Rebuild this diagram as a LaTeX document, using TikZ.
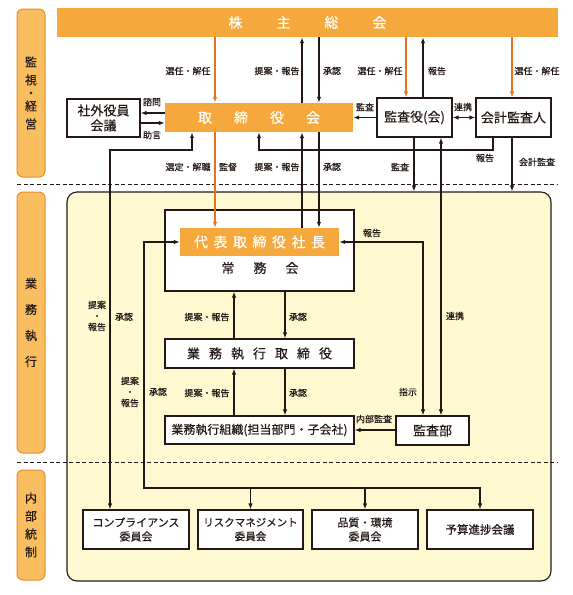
\documentclass[tikz,border=0pt]{standalone}
\usepackage{fontspec}
\setmainfont{Noto Sans CJK JP}[FakeBold=0.3]
\usetikzlibrary{arrows.meta,calc}
\definecolor{ink}{HTML}{231815}
\definecolor{obar}{HTML}{F5A93C}
\definecolor{oarrow}{HTML}{E9731D}
\definecolor{bandf}{HTML}{F9BE5F}
\definecolor{bandb}{HTML}{EE8A2A}
\definecolor{panelf}{HTML}{FFF9D2}
\begin{document}
\begin{tikzpicture}[x=1pt,y=-1pt,
  lbl/.style={font=\fontsize{9}{11}\selectfont, text=ink, inner sep=0pt, align=center},
  box/.style={draw=ink, line width=1.2pt, fill=white, inner sep=0pt, align=center, text=ink, font=\fontsize{12}{14}\selectfont},
  obox/.style={fill=obar, text=white, inner sep=0pt, align=center, font=\fontsize{14}{16}\selectfont},
  band/.style={draw=bandb, fill=bandf, rounded corners=6pt, line width=1pt, minimum width=28pt, inner sep=0pt, align=center, text=ink},
  arr/.style={draw=ink, line width=1.2pt, -{Latex[length=6pt,width=4.5pt]}},
  dbl/.style={draw=ink, line width=1.2pt, {Latex[length=6pt,width=4.5pt]}-{Latex[length=6pt,width=4.5pt]}},
  oarr/.style={draw=oarrow, line width=1.2pt, -{Latex[length=6pt,width=4.5pt]}},
  sep/.style={draw=ink, line width=0.9pt, dash pattern=on 4pt off 2.5pt}
]
\useasboundingbox (0,0) rectangle (573,595);

% bands
\node[band, minimum height=168pt, font=\fontsize{12}{18}\selectfont] (band1) at (31,93)
  {監\\視\\[-5pt]・\\[-5pt]経\\営};
\node[band, minimum height=261pt, font=\fontsize{12}{26}\selectfont] (band2) at (31,322.5)
  {業\\務\\執\\行};
\node[band, minimum height=110pt, font=\fontsize{12}{18}\selectfont] (band3) at (31,525)
  {内\\部\\統\\制};

% panel
\node[draw=ink, line width=1.1pt, fill=panelf, rounded corners=10pt,
      minimum width=484pt, minimum height=389pt, inner sep=0pt] (panel) at (309,386.5) {};

% separators
\coordinate (sepAl) at (17,184); \coordinate (sepAr) at (558,184);
\coordinate (sepBl) at (17,462); \coordinate (sepBr) at (558,462);
\draw[sep] (sepAl) -- (sepAr);
\draw[sep] (sepBl) -- (sepBr);

% top nodes
\node[obox, minimum width=501pt, minimum height=29pt] (kabu) at (307.5,22.5)
  {株\hspace{34pt}主\hspace{34pt}総\hspace{34pt}会};
\node[obox, minimum width=188pt, minimum height=29pt] (tori) at (259,117.5)
  {取\hspace{22pt}締\hspace{22pt}役\hspace{22pt}会};
\node[box, minimum width=73pt, minimum height=38pt, font=\fontsize{13}{15}\selectfont] (shagai) at (103.5,118) {社外役員\\会議};
\node[box, minimum width=75pt, minimum height=39pt, font=\fontsize{13}{15}\selectfont] (kansayaku) at (414.5,117.5) {監査役(会)};
\node[box, minimum width=75pt, minimum height=39pt, font=\fontsize{13}{15}\selectfont] (kaikei) at (513.5,117.5) {会計監査人};

% execution
\node[box, minimum width=189pt, minimum height=81pt] (jomu) at (259.5,250.5) {};
\node[obox, minimum width=159pt, minimum height=28pt] (daihyo) at (259.5,242)
  {代\hspace{5.5pt}表\hspace{5.5pt}取\hspace{5.5pt}締\hspace{5.5pt}役\hspace{5.5pt}社\hspace{5.5pt}長};
\node[lbl, font=\fontsize{13}{15}\selectfont] (jomutext) at (260,268) {常\hspace{19pt}務\hspace{19pt}会};
\node[box, minimum width=189pt, minimum height=29pt, font=\fontsize{13}{15}\selectfont] (gyomu) at (259.5,353.5)
  {業\hspace{9pt}務\hspace{9pt}執\hspace{9pt}行\hspace{9pt}取\hspace{9pt}締\hspace{9pt}役};
\node[box, minimum width=189pt, minimum height=28pt] (soshiki) at (259.5,430) {業務執行組織(担当部門・子会社)};
\node[box, minimum width=73pt, minimum height=29pt, font=\fontsize{13}{15}\selectfont] (kansabu) at (432.5,430.5) {監査部};

% committees
\node[box, minimum width=106pt, minimum height=39pt, font=\fontsize{11}{14}\selectfont] (comp) at (136,529.5) {コンプライアンス\\委員会};
\node[box, minimum width=105pt, minimum height=39pt, font=\fontsize{10.5}{14}\selectfont] (risk) at (250.5,529.5) {リスクマネジメント\\委員会};
\node[box, minimum width=106pt, minimum height=39pt, font=\fontsize{11}{14}\selectfont] (hin) at (365,529.5) {品質・環境\\委員会};
\node[box, minimum width=106pt, minimum height=39pt, font=\fontsize{11.5}{14}\selectfont] (yosan) at (480,529.5) {予算進捗会議};

% x reference coordinates
\coordinate (x215) at (215,0);
\coordinate (x302) at (302,0);
\coordinate (x319) at (319,0);
\coordinate (x406) at (406,0);
\coordinate (x423) at (423,0);
\coordinate (x512) at (512,0);
\coordinate (x414) at (414,0);
\coordinate (x441) at (441,0);
\coordinate (x234) at (234,0);
\coordinate (x285) at (285,0);
\coordinate (y113) at (0,113);
\coordinate (y123) at (0,123);

% top connectors
\draw[oarr] (kabu.south -| x215) -- (tori.north -| x215);
\draw[arr] (tori.north -| x302) -- (kabu.south -| x302);
\draw[arr] (kabu.south -| x319) -- (tori.north -| x319);
\draw[oarr] (kabu.south -| x406) -- (kansayaku.north -| x406);
\draw[arr] (kansayaku.north -| x423) -- (kabu.south -| x423);
\draw[oarr] (kabu.south -| x512) -- (kaikei.north -| x512);
\draw[arr] (tori.west |- y113) -- (shagai.east |- y113);
\draw[arr] (shagai.east |- y123) -- (tori.west |- y123);
\draw[arr] (kansayaku.west) -- (tori.east |- kansayaku.west);
\draw[dbl] (kansayaku.east) -- (kaikei.west);

% tori to daihyo
\draw[oarr] (tori.south -| x215) -- (daihyo.north -| x215);
\draw[arr] (daihyo.north -| x302) -- (tori.south -| x302);
\draw[arr] (tori.south -| x319) -- (daihyo.north -| x319);

% kaikei report to tori
\coordinate (r1) at (493,150);
\coordinate (r2) at (259,150);
\draw[arr] (kaikei.south -| r1) -- (r1) -- (r2) -- (tori.south -| r2);

% compliance loop
\coordinate (b1) at (110,150);
\coordinate (b2) at (192,150);
\draw[dbl] (comp.north -| b1) -- (b1) -- (b2) -- (tori.south -| b2);

% audits down
\draw[arr] (kansayaku.south -| x414) -- (panel.north -| x414);
\draw[arr] (kaikei.south -| x512) -- (panel.north -| x512);
\draw[dbl] (kansayaku.south -| x441) -- (kansabu.north -| x441);

% daihyo <-> kansabu
\coordinate (s1) at (423,242);
\draw[dbl] (daihyo.east) -- (s1) -- (kansabu.north -| s1);

% daihyo <-> committees
\coordinate (t1) at (144,242);
\coordinate (t2) at (144,488);
\coordinate (t3) at (480,488);
\draw[dbl] (daihyo.west) -- (t1) -- (t2) -- (t3) -- (yosan.north);
\draw[arr] (t2 -| risk.north) -- (risk.north);
\draw[arr] (t2 -| hin.north) -- (hin.north);

% hierarchy
\draw[arr] (gyomu.north -| x234) -- (jomu.south -| x234);
\draw[arr] (jomu.south -| x285) -- (gyomu.north -| x285);
\draw[arr] (soshiki.north -| x234) -- (gyomu.south -| x234);
\draw[arr] (gyomu.south -| x285) -- (soshiki.north -| x285);
\draw[arr] (kansabu.west |- soshiki.east) -- (soshiki.east);

% labels
\node[lbl] (L1) at (188,71) {選任・解任};
\node[lbl] (L2) at (277,71) {提案・報告};
\node[lbl] (L3) at (332,71) {承認};
\node[lbl] (L4) at (380,71) {選任・解任};
\node[lbl] (L5) at (437,71) {報告};
\node[lbl] (L6) at (537,71) {選任・解任};
\node[lbl] (L7) at (152,102) {諮問};
\node[lbl] (L8) at (152,135) {助言};
\node[lbl] (L9) at (365,107) {監査};
\node[lbl] (L10) at (463,107) {連携};
\node[lbl] (L11) at (188,167) {選定・解職};
\node[lbl] (L12) at (228,167) {監督};
\node[lbl] (L13) at (277,167) {提案・報告};
\node[lbl] (L14) at (332,167) {承認};
\node[lbl] (L15) at (400,167) {監査};
\node[lbl] (L16) at (485,158) {報告};
\node[lbl] (L17) at (537,162) {会計監査};
\node[lbl] (L18) at (97,316) {提案\\・\\報告};
\node[lbl] (L19) at (124,317) {承認};
\node[lbl] (L20) at (372,233) {報告};
\node[lbl] (L21) at (207,317) {提案・報告};
\node[lbl] (L22) at (298,317) {承認};
\node[lbl] (L23) at (455,316) {連携};
\node[lbl] (L24) at (130,392) {提案\\・\\報告};
\node[lbl] (L25) at (158,392) {承認};
\node[lbl] (L26) at (207,393) {提案・報告};
\node[lbl] (L27) at (298,393) {承認};
\node[lbl] (L28) at (408,392) {指示};
\node[lbl] (L29) at (374,419) {内部監査};
\end{tikzpicture}
\end{document}
